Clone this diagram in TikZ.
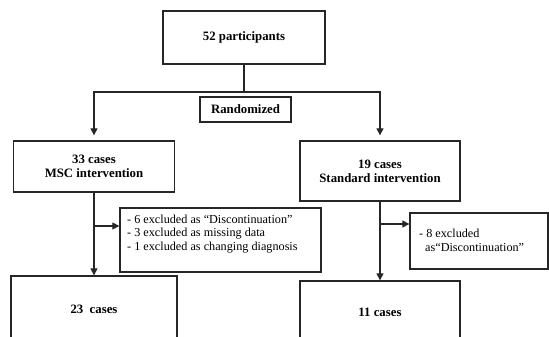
\documentclass[tikz,border=0pt]{standalone}
\usepackage{fontspec}
\setmainfont{Liberation Serif}
\usetikzlibrary{arrows.meta}
\begin{document}
\begin{tikzpicture}[x=1pt,y=-1pt,
  box/.style={draw=black!85, line width=1.3pt, inner sep=0pt, align=center,
    font=\fontsize{12.8}{14}\selectfont\bfseries},
  frame/.style={draw=black!85, line width=1.3pt, inner sep=0pt},
  note/.style={inner sep=0pt, align=left, anchor=west,
    font=\fontsize{12.2}{13.6}\selectfont},
  conn/.style={draw=black!85, line width=1.2pt},
  arr/.style={conn, -{Triangle[length=7pt,width=7pt]}}]
\clip (0,0) rectangle (549,337);
\fill[white] (0,0) rectangle (549,337);

\node[box, minimum width=162pt, minimum height=53pt] (top) at (244,37.5) {52 participants};
\node[box, minimum width=91pt, minimum height=25pt] (rand) at (245.5,109.5) {Randomized};
\node[box, minimum width=161pt, minimum height=51pt] (msc) at (94,166.5) {33 cases\\MSC intervention};
\node[box, minimum width=160pt, minimum height=60pt] (std) at (380,171) {19 cases\\Standard intervention};

\node[frame, minimum width=201pt, minimum height=64pt] (exclA) at (220.5,240) {};
\node[note] (exclAtext) at (127,234) {- 6 excluded as “Discontinuation”\\- 3 excluded as missing data\\- 1 excluded as changing diagnosis};

\node[frame, minimum width=138pt, minimum height=56pt] (exclB) at (479,241) {};
\node[note] (exclBtext) at (419,240.5) {- 8 excluded\\\hspace*{6pt}as“Discontinuation”};

\node[box, minimum width=166pt, minimum height=66pt] (botL) at (94,309) {23\ \ cases};
\node[box, minimum width=160pt, minimum height=62pt] (botR) at (380,312) {11 cases};

\coordinate (split) at (244,92);
\draw[conn] (top) -- (split);
\draw[arr, shorten >=5pt] (split) -| (msc);
\draw[arr, shorten >=5pt] (split) -| (std);

\draw[arr] (msc) -- (botL);
\coordinate (brA) at (94,226);
\draw[arr] (brA) -- (brA -| exclA.west);

\draw[arr] (std) -- (botR);
\coordinate (brB) at (380,224);
\draw[arr] (brB) -- (brB -| exclB.west);
\end{tikzpicture}
\end{document}
